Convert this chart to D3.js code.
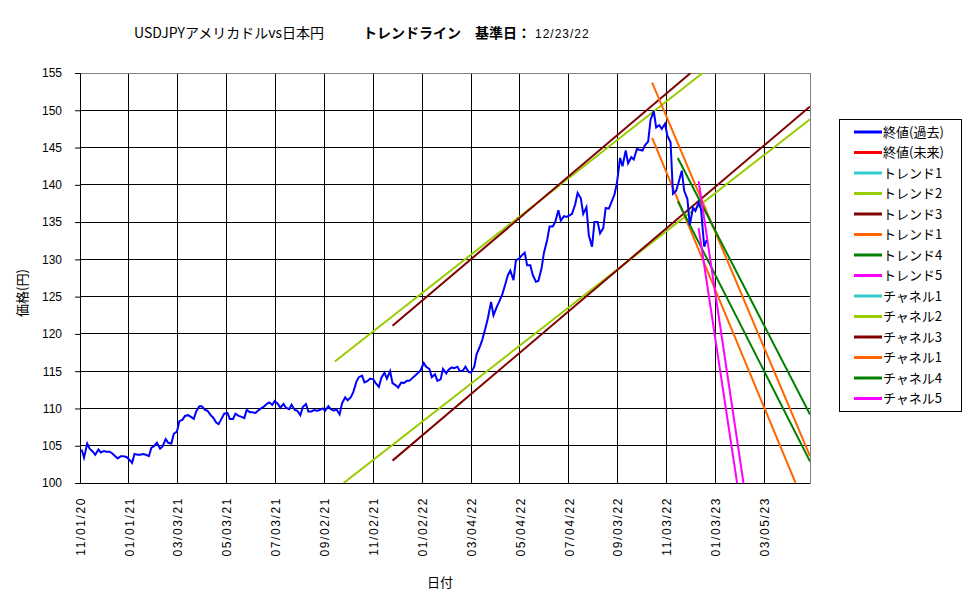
<!DOCTYPE html>
<html>
<head>
<meta charset="utf-8">
<script src="https://cdn.jsdelivr.net/npm/d3@7"></script>
<style>
  body { margin: 0; background: #fff; }
  text { font-family: "Liberation Sans", Arial, sans-serif; }
  .jp { font-family: "Noto Sans CJK JP", sans-serif; }
</style>
</head>
<body>
<svg id="chart" width="975" height="599"></svg>
<script>
// x axis tick dates (every 61 days, like the original)
const tickDates = ["2020-11-01", "2021-01-01", "2021-03-03", "2021-05-03", "2021-07-03", "2021-09-02",
  "2021-11-02", "2022-01-02", "2022-03-04", "2022-05-04", "2022-07-04", "2022-09-03",
  "2022-11-03", "2023-01-03", "2023-03-05"]
const yTicks = [100, 105, 110, 115, 120, 125, 130, 135, 140, 145, 150, 155]

// closing price, two readings per week (tue, fri), weeks starting on monday
const closeWeekStart = "2020-11-02"
const closeWeekly = [
  [104.5, 103.4], [105.3, 104.6], [104.2, 103.8], [104.5, 104.1], [104.3, 104.2],
  [104.2, 104.0], [103.6, 103.3], [103.6, 103.6], [103.5, 103.2],
  [102.7, 103.9], [103.8, 103.8], [103.9, 103.8], [103.6, 104.7],
  [105.0, 105.4], [104.6, 104.9], [105.9, 105.4], [105.3, 106.6],
  [106.9, 108.3], [108.5, 109.0], [109.1, 108.9], [108.6, 109.6], [110.3, 110.3],
  [109.8, 109.7], [109.1, 108.8], [108.1, 107.9], [108.7, 109.3],
  [109.4, 108.6], [108.6, 109.3], [109.0, 108.9], [108.7, 109.8],
  [109.5, 109.5], [109.4, 109.7], [110.0, 110.2], [110.6, 110.8], [110.5, 111.0],
  [110.6, 110.1], [110.6, 110.1], [109.9, 110.5], [109.8, 109.7],
  [109.1, 110.2], [110.6, 109.6], [109.6, 109.8], [109.7, 109.8],
  [110.0, 109.7], [110.3, 109.9], [109.7, 109.9], [109.2, 110.7],
  [111.5, 111.1], [111.5, 112.2], [113.6, 114.2], [114.4, 113.5], [113.7, 114.0],
  [113.9, 113.4], [112.9, 114.1], [114.8, 114.0], [115.0, 113.4],
  [113.1, 112.8], [113.5, 113.4], [113.7, 113.7], [114.1, 114.4], [114.8, 115.1],
  [116.1, 115.6], [115.3, 114.2], [114.6, 113.7], [113.9, 115.3],
  [114.7, 115.2], [115.5, 115.4], [115.6, 115.0], [115.1, 115.6],
  [114.9, 114.8], [115.6, 117.3], [118.3, 119.2], [120.8, 122.1], [124.3, 122.5],
  [123.6, 124.3], [125.3, 126.4], [127.9, 128.5], [127.2, 129.9],
  [130.1, 130.5], [130.9, 129.2], [129.2, 127.9], [127.0, 127.1],
  [128.8, 130.9], [132.6, 134.4], [134.4, 135.0], [136.6, 135.2],
  [135.8, 135.7], [135.9, 136.1], [137.4, 138.9], [138.2, 136.1], [137.0, 133.2],
  [131.7, 135.0], [135.0, 133.5], [134.2, 136.9], [136.8, 137.6],
  [138.7, 140.2], [143.6, 142.5], [144.6, 142.9], [143.7, 143.4],
  [144.8, 144.7], [144.6, 145.3], [145.8, 148.7], [149.9, 147.7], [148.0, 147.5],
  [148.2, 146.6], [145.7, 138.8], [139.2, 140.3], [141.9, 139.2],
  [138.1, 134.6], [136.9, 136.5], [137.6, 136.7], [131.7, 132.6]
]

// trend / channel lines, [date, value] read at their ends
const trend2 = [["2021-09-15", 116.3], ["2022-12-18", 155.0]]
const channel2 = [["2021-09-26", 100.0], ["2023-05-01", 148.8]]
const trend3 = [["2021-11-26", 121.1], ["2022-12-03", 155.0]]
const channel3 = [["2021-11-26", 103.0], ["2023-05-01", 150.5]]
const trend1b = [["2022-10-16", 153.7], ["2023-05-01", 103.6]]
const channel1b = [["2022-10-16", 146.3], ["2023-04-13", 100.0]]
const trend4 = [["2022-11-17", 143.6], ["2023-05-01", 109.2]]
const channel4 = [["2022-11-17", 137.8], ["2023-05-01", 102.9]]
const trend5 = [["2022-12-13", 140.5], ["2023-02-07", 100.0]]
const channel5 = [["2022-12-13", 134.2], ["2023-01-30", 100.0]]

const legendNames = ["終値(過去)", "終値(未来)", "トレンド1", "トレンド2", "トレンド3", "トレンド1", "トレンド4",
  "トレンド5", "チャネル1", "チャネル2", "チャネル3", "チャネル1", "チャネル4", "チャネル5"]
const legendColors = ["#0000FF", "#FF0000", "#33CCCC", "#99CC00", "#800000", "#FF6600", "#008000",
  "#FF00FF", "#33CCCC", "#99CC00", "#800000", "#FF6600", "#008000", "#FF00FF"]

const parse = d3.timeParse("%Y-%m-%d")
const fmt = d3.timeFormat("%m/%d/%y")

const pLeft = 80, pRight = 810, pTop = 73, pBottom = 483

const xScale = d3.scaleTime()
  .domain([parse("2020-11-01"), parse("2023-05-01")])
  .range([pLeft, pRight])

const yScale = d3.scaleLinear()
  .domain([100, 155])
  .range([pBottom, pTop])

const svg = d3.select('#chart')

// close data with dates
const start = parse(closeWeekStart)
const closeData = []
closeWeekly.forEach((wk, w) => {
  wk.forEach((v, k) => {
    closeData.push({ date: d3.timeDay.offset(start, w * 7 + (k == 0 ? 1 : 4)), value: v })
  })
})

// title
svg.append('text')
  .attr('class', 'jp')
  .attr('x', 134).attr('y', 38)
  .attr('font-size', 14)
  .text('USDJPYアメリカドルvs日本円')
svg.append('text')
  .attr('class', 'jp')
  .attr('x', 363).attr('y', 38)
  .attr('font-size', 14)
  .attr('font-weight', 'bold')
  .text('トレンドライン　基準日：')
svg.append('text')
  .attr('x', 535).attr('y', 38)
  .attr('font-size', 12)
  .attr('letter-spacing', 1)
  .text('12/23/22')

// grid
const ticks = tickDates.map(parse)
svg.append('g')
  .selectAll('line')
  .data(ticks.slice(1))
  .enter()
  .append('line')
  .attr('x1', d => xScale(d)).attr('x2', d => xScale(d))
  .attr('y1', pTop).attr('y2', pBottom)
  .attr('stroke', '#000')
  .attr('shape-rendering', 'crispEdges')

svg.append('g')
  .selectAll('line')
  .data(yTicks.slice(1, -1))
  .enter()
  .append('line')
  .attr('x1', pLeft).attr('x2', pRight)
  .attr('y1', d => yScale(d)).attr('y2', d => yScale(d))
  .attr('stroke', '#000')
  .attr('shape-rendering', 'crispEdges')

// plot border: top/right grey
svg.append('path')
  .attr('d', `M${pLeft},${pTop}H${pRight}V${pBottom}`)
  .attr('fill', 'none')
  .attr('stroke', '#808080')
  .attr('shape-rendering', 'crispEdges')

// y axis
const yAxis = d3.axisLeft(yScale).tickValues(yTicks).tickSize(5).tickPadding(13)
svg.append('g')
  .attr('transform', `translate(${pLeft},0)`)
  .call(yAxis)
  .call(g => g.select('.domain').attr('stroke', '#000'))
  .call(g => g.selectAll('text').attr('font-size', 12).attr('font-family', '"Liberation Sans", Arial, sans-serif').attr('fill', '#000'))

// x axis
const xAxis = d3.axisBottom(xScale).tickValues(ticks).tickFormat(fmt).tickSize(0)
svg.append('g')
  .attr('transform', `translate(0,${pBottom})`)
  .call(xAxis)
  .call(g => g.select('.domain').attr('stroke', '#000'))
  .call(g => g.selectAll('text')
    .attr('font-size', 12)
    .attr('font-family', '"Liberation Sans", Arial, sans-serif')
    .attr('letter-spacing', 1.6)
    .attr('fill', '#000')
    .attr('text-anchor', 'end')
    .attr('dy', '0.35em')
    .attr('transform', 'translate(0,14) rotate(-90)')
    .attr('x', 0).attr('y', 0))

// axis titles
svg.append('text')
  .attr('class', 'jp')
  .attr('font-size', 13)
  .attr('text-anchor', 'middle')
  .attr('transform', 'translate(27,293) rotate(-90)')
  .text('価格(円)')
svg.append('text')
  .attr('class', 'jp')
  .attr('font-size', 13)
  .attr('text-anchor', 'middle')
  .attr('x', 440).attr('y', 587)
  .text('日付')

// clip
svg.append('clipPath').attr('id', 'plotclip')
  .append('rect')
  .attr('x', pLeft).attr('y', pTop)
  .attr('width', pRight - pLeft).attr('height', pBottom - pTop)

const plot = svg.append('g').attr('clip-path', 'url(#plotclip)')

const line = d3.line()
  .x(d => xScale(d.date))
  .y(d => yScale(d.value))

const lines = [
  [trend2, "#99CC00"], [channel2, "#99CC00"],
  [trend3, "#800000"], [channel3, "#800000"],
  [trend1b, "#FF6600"], [channel1b, "#FF6600"],
  [trend4, "#008000"], [channel4, "#008000"],
  [trend5, "#FF00FF"], [channel5, "#FF00FF"]
]
lines.forEach(([pts, color]) => {
  plot.append('path')
    .datum(pts.map(p => ({ date: parse(p[0]), value: p[1] })))
    .attr('d', line)
    .attr('fill', 'none')
    .attr('stroke', color)
    .attr('stroke-width', 2)
})

plot.append('path')
  .datum(closeData)
  .attr('d', line)
  .attr('fill', 'none')
  .attr('stroke', '#0000FF')
  .attr('stroke-width', 2)
  .attr('stroke-linejoin', 'miter')

// legend
const legend = svg.append('g')
legend.append('rect')
  .attr('x', 839.5).attr('y', 119.5)
  .attr('width', 122).attr('height', 292)
  .attr('fill', '#fff')
  .attr('stroke', '#000')

const items = legend.selectAll('g.item')
  .data(legendNames)
  .enter()
  .append('g')
  .attr('class', 'item')
  .attr('transform', (d, i) => `translate(0,${132 + i * 20.5})`)

items.append('line')
  .attr('x1', 854).attr('x2', 882)
  .attr('stroke', (d, i) => legendColors[i])
  .attr('stroke-width', 3)

items.append('text')
  .attr('class', 'jp')
  .attr('x', 883).attr('y', 0)
  .attr('dy', '0.36em')
  .attr('font-size', 13)
  .text(d => d)
</script>
</body>
</html>
